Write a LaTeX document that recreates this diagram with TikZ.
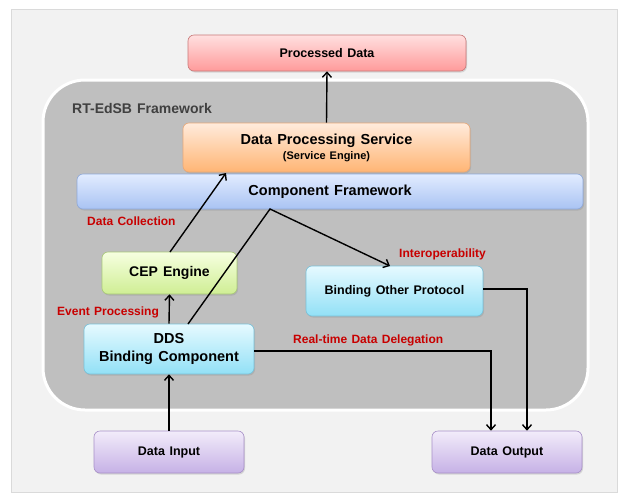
\documentclass[tikz,border=0pt]{standalone}
\usepackage{fontspec}
\setmainfont{Liberation Sans}[WordSpace=1.3]
\usetikzlibrary{arrows.meta,shadows}
\definecolor{panelbg}{HTML}{F2F2F2}
\definecolor{panelline}{HTML}{DADADA}
\definecolor{fwgray}{HTML}{BFBFBF}
\definecolor{fwtext}{HTML}{404040}
\definecolor{lblred}{HTML}{C80000}
\definecolor{pdtop}{HTML}{FFE0E0}\definecolor{pdbot}{HTML}{FF9A9A}\definecolor{pdline}{HTML}{C87878}
\definecolor{ortop}{HTML}{FFEBDC}\definecolor{orbot}{HTML}{FFB574}\definecolor{orline}{HTML}{E8A878}
\definecolor{bltop}{HTML}{E2ECFF}\definecolor{blbot}{HTML}{A9C3F3}\definecolor{blline}{HTML}{8EA8D8}
\definecolor{grtop}{HTML}{F6FFE0}\definecolor{grbot}{HTML}{CFEE94}\definecolor{grline}{HTML}{A8C878}
\definecolor{cytop}{HTML}{E6FAFF}\definecolor{cybot}{HTML}{92E0F6}\definecolor{cyline}{HTML}{78C0D8}
\definecolor{putop}{HTML}{F2ECFA}\definecolor{pubot}{HTML}{C6B1E6}\definecolor{puline}{HTML}{A890C8}
\newcommand{\bsz}[1]{\bfseries\fontsize{#1}{#1}\selectfont}
\tikzset{
  box/.style={rounded corners=6pt, draw, line width=0.6pt, align=center,
    inner sep=0pt, drop shadow={shadow xshift=1pt, shadow yshift=-1.5pt, opacity=0.25}},
  pdbox/.style={box, top color=pdtop, bottom color=pdbot, draw=pdline},
  orbox/.style={box, top color=ortop, bottom color=orbot, draw=orline},
  blbox/.style={box, top color=bltop, bottom color=blbot, draw=blline},
  grbox/.style={box, top color=grtop, bottom color=grbot, draw=grline},
  cybox/.style={box, top color=cytop, bottom color=cybot, draw=cyline},
  pubox/.style={box, top color=putop, bottom color=pubot, draw=puline},
  lbl/.style={text=lblred, font=\bsz{12}, anchor=west, inner sep=0pt},
  conn/.style={line width=1.4pt, black},
  arr/.style={conn, -{Straight Barb[length=5pt,width=9pt,line width=1.4pt]}},
}
\begin{document}
\begin{tikzpicture}[x=1pt,y=-1pt]
\useasboundingbox (0,0) rectangle (622,496);
\fill[white] (0,0) rectangle (622,496);
\draw[panelline, fill=panelbg] (11,9) rectangle (617,492);
\draw[white, line width=3pt, fill=fwgray, rounded corners=42pt] (43,80) rectangle (588,410);
\node[text=fwtext, font=\bsz{14}, anchor=west, inner sep=0pt] (fwlabel) at (72,108) {RT-EdSB Framework};

\node[pdbox, minimum width=278pt, minimum height=36pt, font=\bsz{12.5}] (pd) at (327,53) {Processed Data};
\node[orbox, minimum width=287pt, minimum height=49pt] (dps) at (326.5,147.5) {{\bsz{14.5}Data Processing Service}\\[3pt]{\bsz{11}(Service Engine)}};
\node[blbox, minimum width=506pt, minimum height=35pt, font=\bsz{14.5}] (cf) at (330,191.5) {Component Framework};
\node[grbox, minimum width=135pt, minimum height=42pt, font=\bsz{14}] (cep) at (169.5,273) {CEP Engine};
\node[cybox, minimum width=177pt, minimum height=50pt, font=\bsz{12.5}] (bop) at (394.5,291) {Binding Other Protocol};
\node[cybox, minimum width=170pt, minimum height=50pt, font=\bsz{14.5}] (dds) at (169,349) {DDS\\[4pt]Binding Component};
\node[pubox, minimum width=150pt, minimum height=42pt, font=\bsz{12.5}] (din) at (169,452) {Data Input};
\node[pubox, minimum width=150pt, minimum height=42pt, font=\bsz{12.5}] (dout) at (507,452) {Data Output};

\node[lbl] (lcol) at (87,221) {Data Collection};
\node[lbl] (lev) at (57,312) {Event Processing};
\node[lbl] (lint) at (399,254) {Interoperability};
\node[lbl] (lrt) at (293,340) {Real-time Data Delegation};

\coordinate (cfb) at (270,209);
\coordinate (rtc) at (491,351);
\coordinate (bopc) at (527,289);

\draw[arr] (dps.north) -- (pd.south);
\draw[arr] (din.north) -- (dds.south);
\draw[arr] (dds.north) -- (cep.south);
\draw[arr] (170,252) -- (226,173);
\draw[arr] (188,324) -- (cfb) -- (390,266);
\draw[arr] (dds.east |- rtc) -- (rtc) -- (rtc |- dout.north);
\draw[arr] (bop.east |- bopc) -- (bopc) -- (bopc |- dout.north);
\end{tikzpicture}
\end{document}
